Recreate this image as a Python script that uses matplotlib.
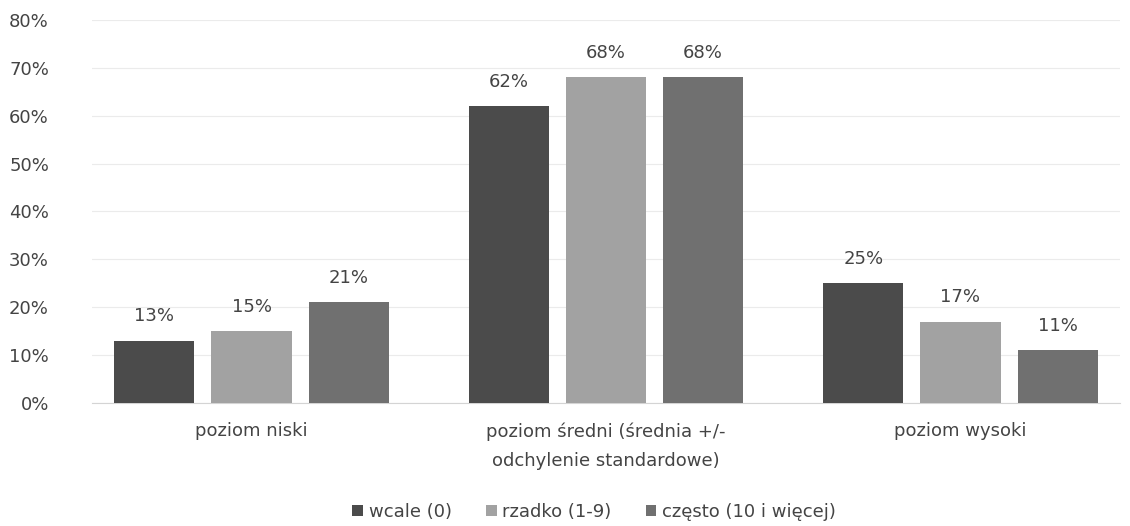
import matplotlib
matplotlib.use("Agg")
import matplotlib.pyplot as plt
import numpy as np
from matplotlib.ticker import PercentFormatter

categories = ["poziom niski", "poziom średni (średnia +/-\nodchylenie standardowe)", "poziom wysoki"]
series_names = ["wcale (0)", "rzadko (1-9)", "często (10 i więcej)"]
wcale = [13, 62, 25]
rzadko = [15, 68, 17]
czesto = [21, 68, 11]
yticks = [0, 10, 20, 30, 40, 50, 60, 70, 80]

colors = ["#4b4b4b", "#a2a2a2", "#707070"]
text_color = "#444444"
fs = 13

plt.rcParams['font.family'] = ['DejaVu Sans']

fig = plt.figure(figsize=(11.3, 5.26), dpi=100)
ax = fig.add_axes([92/1130, 1 - 403/526, 1028/1130, 383/526])

x = np.arange(len(categories))
offset = 0.274
width = 0.226
for i, (vals, name, col) in enumerate(zip([wcale, rzadko, czesto], series_names, colors)):
    pos = x + (i - 1) * offset
    bars = ax.bar(pos, vals, width=width, color=col, label=name, zorder=3)
    for b, v in zip(bars, vals):
        ax.text(b.get_x() + b.get_width() / 2, v + 3.2, f"{v}%", ha="center", va="bottom",
                fontsize=fs, color=text_color)

ax.set_xlim(-0.45, 2.45)
ax.set_ylim(0, 80)
ax.set_yticks(yticks)
ax.yaxis.set_major_formatter(PercentFormatter(decimals=0))
ax.set_xticks(x)
ax.set_xticklabels(categories, fontsize=fs, color=text_color, linespacing=1.8)
ax.tick_params(axis="y", labelsize=fs, colors=text_color, length=0, pad=31)
ax.tick_params(axis="x", length=0, pad=14)
ax.grid(axis="y", color="#ebebeb", linewidth=0.8, zorder=0)
for s in ["top", "right", "left"]:
    ax.spines[s].set_visible(False)
ax.spines["bottom"].set_color("#d4d4d4")

fig.legend(loc="center", bbox_to_anchor=(594/1130, 1 - 512/526), ncol=3, frameon=False,
           fontsize=fs, handlelength=0.6, handleheight=0.6, handletextpad=0.3,
           columnspacing=1.9, labelcolor=text_color)

fig.savefig("out.png", dpi=100)
